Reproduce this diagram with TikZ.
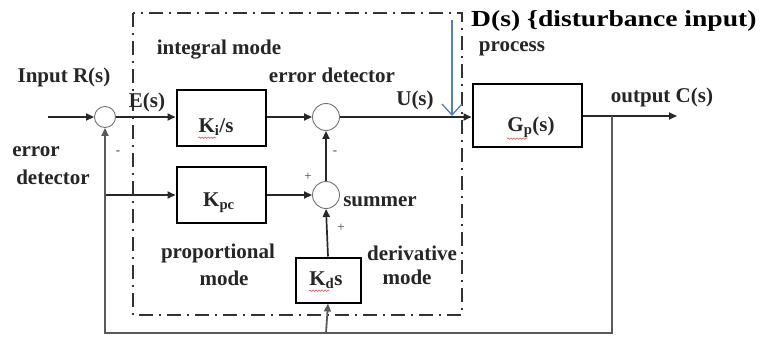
\documentclass[tikz,border=0pt]{standalone}
\usepackage{fontspec}
\setmainfont{Liberation Serif}
\usetikzlibrary{arrows.meta,decorations.pathmorphing}
\definecolor{dline}{RGB}{40,40,40}
\definecolor{fbline}{RGB}{90,90,90}
\definecolor{distblue}{RGB}{80,130,185}
\definecolor{squig}{RGB}{210,90,90}
\tikzset{
  lbl/.style={font=\fontsize{21}{24}\selectfont\bfseries, inner sep=0pt, text=black!85},
  sgn/.style={font=\fontsize{13}{14}\selectfont, inner sep=0pt, text=black!75},
  blk/.style={draw=black, line width=2pt, inner sep=0pt},
  sumc/.style={circle, draw=black!55, line width=0.9pt, fill=white, inner sep=0pt},
  sig/.style={draw=dline, line width=1.7pt, -{Triangle[length=8pt,width=7pt]}},
  sigline/.style={draw=dline, line width=1.7pt},
  fb/.style={draw=fbline, line width=1.8pt},
  dashdotbox/.style={draw=black!80, line width=1.8pt, dash pattern=on 14pt off 6pt on 2pt off 6pt},
  redsq/.style={draw=squig, line width=0.6pt, decorate, decoration={snake, amplitude=0.7pt, segment length=3pt}}
}
\begin{document}
\begin{tikzpicture}[x=1pt,y=-1pt]
\useasboundingbox[fill=white] (0,0) rectangle (762,338);

% dash-dot controller boundary
\draw[dashdotbox] (133,13) rectangle (462,315);

% blocks
\node[blk, minimum width=89pt, minimum height=56pt] (ki) at (221,118) {};
\node[blk, minimum width=89pt, minimum height=56pt] (kp) at (221,195) {};
\node[blk, minimum width=65pt, minimum height=45pt] (kd) at (328,280) {};
\node[blk, minimum width=109pt, minimum height=63pt] (gp) at (527,115.5) {};

\node[lbl] (kit) at (216,127) {K\textsubscript{i}/s};
\node[lbl] (kpt) at (219,203) {K\textsubscript{pc}};
\node[lbl] (kdt) at (326,280) {K\textsubscript{d}s};
\node[lbl] (gpt) at (531,127) {G\textsubscript{p}(s)};

% red spell-check squiggles
\draw[redsq] (kit.south west) ++(0,2) -- ++(18,0);
\draw[redsq] (kdt.south west) ++(0,2) -- ++(20,0);
\draw[redsq] (gpt.south west) ++(0,1) -- ++(20,0);

% summing junctions
\node[sumc, minimum size=21pt] (s1) at (105,117) {};
\node[sumc, minimum size=27pt] (s2) at (326,117) {};
\node[sumc, minimum size=27pt] (s3) at (326,195) {};

% coordinates
\coordinate (rin) at (48,117);
\coordinate (cout) at (677,116);
\coordinate (tap) at (612,116);
\coordinate (br) at (612,333);
\coordinate (bl) at (105,333);
\coordinate (kpb) at (105,195);
\coordinate (kdb) at (326,333);
\coordinate (dtop) at (452,20);
\coordinate (dtip) at (452,116);

% forward path
\draw[sig] (rin) -- (s1);
\draw[sig] (s1.east) -- (s1.east -| ki.west);
\draw[sig] (ki.east |- s2) -- (s2);
\draw[sig] (s2.east) -- (s2.east -| gp.west);
\draw[sig] (gp.east |- cout) -- (cout);

% proportional & derivative paths
\draw[sig] (kpb) -- (kp.west);
\draw[sig] (kp.east) -- (s3);
\draw[sig] (kd.north) -- (s3.south);
\draw[sig] (s3.north) -- (s2.south);

% feedback path
\draw[fb] (tap) -- (br) -- (bl) -- (kpb);
\draw[fb, -{Triangle[length=8pt,width=7pt]}] (kpb) -- (s1.south);
\draw[fb, -{Triangle[length=8pt,width=7pt]}] (kdb) -- (kd.south);

% disturbance input
\draw[draw=distblue, line width=1.3pt, -{Straight Barb[length=11pt,width=20pt,line width=1.3pt]}] (dtop) -- (dtip);

% labels
\node[lbl] (lin) at (64,77) {Input R(s)};
\node[lbl] (lint) at (219,50) {integral mode};
\node[lbl] (led) at (332,75) {error detector};
\node[lbl] (le) at (147,102) {E(s)};
\node[lbl] (lu) at (415,100) {U(s)};
\node[lbl, anchor=west, font=\fontsize{23}{26}\selectfont\bfseries, text=black] (ld) at (471,21) {\scalebox{1.2}[1]{D(s) \{disturbance input)}};
\node[lbl] (lproc) at (512,49) {process};
\node[lbl] (lout) at (662,97) {output C(s)};
\node[lbl] (ler1) at (36,152) {error};
\node[lbl] (ler2) at (53,177) {detector};
\node[lbl] (lsum) at (380,202) {summer};
\node[lbl] (lpro1) at (218,253) {proportional};
\node[lbl] (lpro2) at (224,278) {mode};
\node[lbl] (lder1) at (412,253) {derivative};
\node[lbl] (lder2) at (407,277) {mode};

% signs
\node[sgn] (m1) at (118,153) {-};
\node[sgn] (m2) at (335,153) {-};
\node[sgn] (p1) at (308,177) {+};
\node[sgn] (p2) at (341,228) {+};
\end{tikzpicture}
\end{document}
